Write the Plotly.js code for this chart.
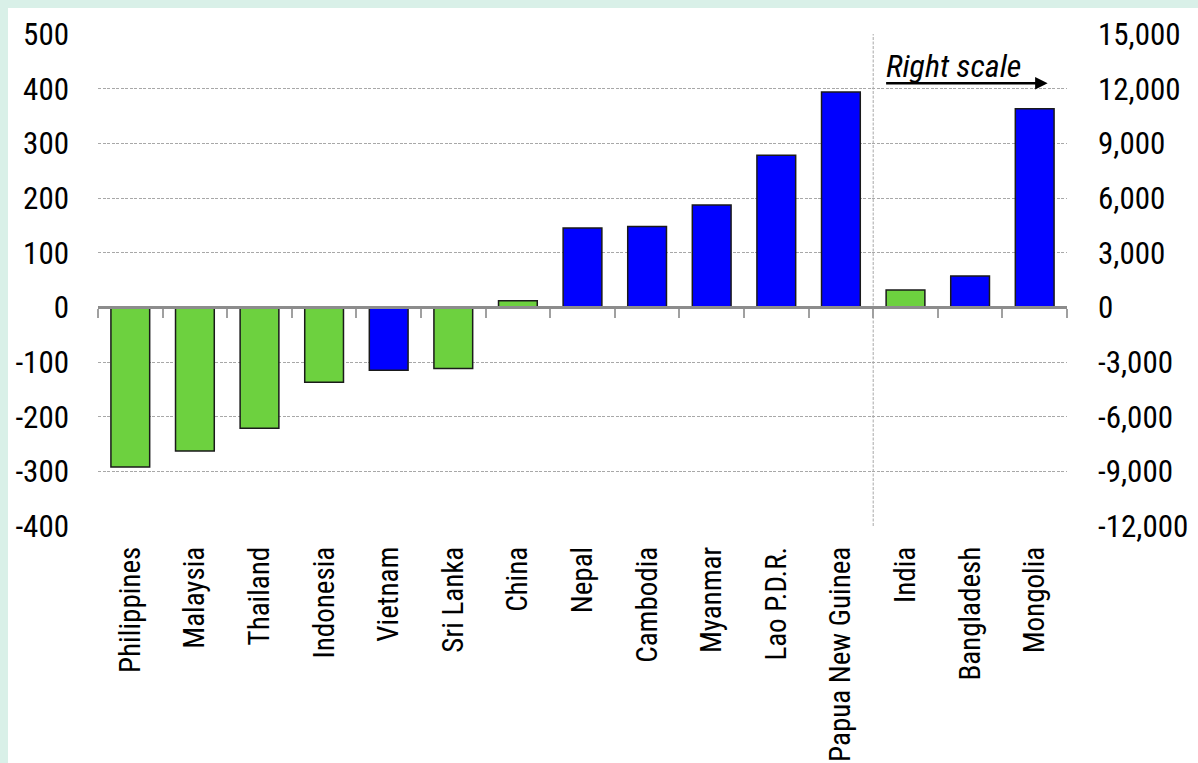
<!DOCTYPE html>
<html>
<head>
<meta charset="utf-8">
<script src="https://cdn.plot.ly/plotly-3.0.1.min.js"></script>
<style>
  html, body { margin: 0; padding: 0; background: #d9f0e8; width: 1198px; height: 763px; overflow: hidden; }
  #chart { position: absolute; left: 8px; top: 8px; width: 1190px; height: 755px; background: #fff; }
</style>
</head>
<body>
<div id="chart"></div>
<script>
// ---- data ----
const countries = ["Philippines", "Malaysia", "Thailand", "Indonesia", "Vietnam", "Sri Lanka", "China",
  "Nepal", "Cambodia", "Myanmar", "Lao P.D.R.", "Papua New Guinea", "India", "Bangladesh", "Mongolia"];
// values read on the left scale (first 12) and the right scale (last 3)
const leftValues  = [-292, -263, -221, -137, -115, -112, 12, 145, 148, 187, 278, 394, null, null, null];
const rightValues = [null, null, null, null, null, null, null, null, null, null, null, null, 950, 1720, 10900];
// group of each country (A = green, B = blue)
const groups = ["A", "A", "A", "A", "B", "A", "A", "B", "B", "B", "B", "B", "A", "B", "B"];

const leftTickVals  = [-400, -300, -200, -100, 0, 100, 200, 300, 400, 500];
const leftTickText  = ["-400", "-300", "-200", "-100", "0", "100", "200", "300", "400", "500"];
const rightTickVals = [-12000, -9000, -6000, -3000, 0, 3000, 6000, 9000, 12000, 15000];
const rightTickText = ["-12,000", "-9,000", "-6,000", "-3,000", "0", "3,000", "6,000", "9,000", "12,000", "15,000"];

// ---- styling ----
const groupColor = { A: "#6dd13f", B: "#0000ff" };
const colors = groups.map(g => groupColor[g]);
const FONT = "'Liberation Sans Narrow', 'Roboto Condensed', 'DejaVu Sans Condensed', 'Arial Narrow', sans-serif";

const barStyle = {
  type: "bar",
  x: countries,
  width: 0.6,
  marker: { color: colors, line: { color: "#1a1a1a", width: 1.5 } },
  hoverinfo: "x+y",
  showlegend: false
};

const traces = [
  Object.assign({}, barStyle, { y: leftValues, xaxis: "x", yaxis: "y" }),
  Object.assign({}, barStyle, { y: rightValues, xaxis: "x", yaxis: "y2" }),
  { type: "scatter", mode: "none", x: countries, y: countries.map(() => null),
    xaxis: "x2", yaxis: "y", hoverinfo: "skip", showlegend: false }
];

const yMin = leftTickVals[0], yMax = leftTickVals[leftTickVals.length - 1];

const layout = {
  width: 1190, height: 755,
  margin: { l: 90, r: 131, t: 26, b: 237 },
  paper_bgcolor: "#ffffff",
  plot_bgcolor: "#ffffff",
  barmode: "overlay",
  font: { family: FONT, color: "#000" },
  xaxis: {
    type: "category",
    categoryorder: "array", categoryarray: countries,
    range: [-0.5, countries.length - 0.5],
    tickangle: -90,
    ticks: "",
    showgrid: false, showline: false, zeroline: false,
    tickfont: { family: FONT, size: 29, color: "#000" },
    ticklabelstandoff: 14
  },
  xaxis2: {
    type: "category",
    overlaying: "x",
    anchor: "free",
    position: (0 - yMin) / (yMax - yMin),
    side: "bottom",
    categoryorder: "array", categoryarray: countries,
    range: [-0.5, countries.length - 0.5],
    tickson: "boundaries",
    ticks: "outside", ticklen: 9, tickwidth: 2, tickcolor: "#a0a0a0",
    showticklabels: false,
    showgrid: false, zeroline: false,
    showline: true, linecolor: "#8c8c8c", linewidth: 3,
    layer: "above traces"
  },
  yaxis: {
    range: [yMin, yMax],
    tickvals: leftTickVals, ticktext: leftTickText,
    showgrid: true, gridcolor: "#a8a8a8", griddash: "3px,1.5px", gridwidth: 1,
    zeroline: false, showline: false, ticks: "",
    tickfont: { family: FONT, size: 31, color: "#000" },
    ticklabelstandoff: 28
  },
  yaxis2: {
    overlaying: "y", side: "right", anchor: "x",
    range: [rightTickVals[0], rightTickVals[rightTickVals.length - 1]],
    tickvals: rightTickVals, ticktext: rightTickText,
    showgrid: false, zeroline: false, showline: false, ticks: "",
    tickfont: { family: FONT, size: 31, color: "#000" },
    ticklabelstandoff: 30
  },
  shapes: [{
    type: "line", xref: "x", yref: "paper",
    x0: 11.5, x1: 11.5, y0: 0, y1: 1,
    line: { color: "#a8a8a8", width: 1, dash: "3px,1.5px" },
    layer: "below"
  }],
  annotations: [
    {
      xref: "x", yref: "y", x: 12.75, y: 442,
      text: "<i>Right scale</i>", showarrow: false,
      font: { family: FONT, size: 32, color: "#000" }
    },
    {
      xref: "x", yref: "y", x: 14.2, y: 410,
      text: "", showarrow: true, ax: -163, ay: 0,
      arrowhead: 2, arrowsize: 1, arrowwidth: 2.5, arrowcolor: "#000"
    }
  ]
};

Plotly.newPlot("chart", traces, layout, { displayModeBar: false, staticPlot: true });
</script>
</body>
</html>
